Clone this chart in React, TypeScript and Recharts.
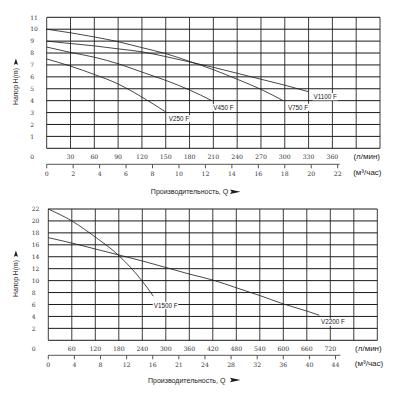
import { CartesianGrid, Label, Line, LineChart, XAxis, YAxis } from "recharts";

// ---- верхний график: V250 F … V1100 F ----
const topFlowTicks = [0, 30, 60, 90, 120, 150, 180, 210, 240, 270, 300, 330, 360, 390, 420];
const topFlowLabels = [30, 60, 90, 120, 150, 180, 210, 240, 270, 300, 330, 360];
const topM3Ticks = [0, 2, 4, 6, 8, 10, 12, 14, 16, 18, 20, 22];
const topM3Labels = ["0", "2", "4", "6", "8", "10", "12", "14", "16", "18", "20", "22"];
const topHeadTicks = [0, 1, 2, 3, 4, 5, 6, 7, 8, 9, 10, 11];

const v250Flow = [0, 30, 60, 90, 120, 150];
const v250Head = [7.5, 6.9, 6.2, 5.4, 4.3, 3.05];

const v450Flow = [0, 30, 60, 90, 120, 150, 180, 208];
const v450Head = [8.5, 8.05, 7.65, 7.1, 6.4, 5.7, 4.9, 4.0];

const v750Flow = [0, 30, 60, 90, 120, 150, 180, 210, 240, 270, 298];
const v750Head = [10, 9.7, 9.35, 8.95, 8.45, 7.95, 7.3, 6.6, 5.8, 4.95, 4.0];

const v1100Flow = [0, 30, 60, 90, 120, 150, 180, 210, 240, 270, 300, 330];
const v1100Head = [9, 8.8, 8.6, 8.35, 8.1, 7.7, 7.25, 6.8, 6.3, 5.8, 5.3, 4.75];

// ---- нижний график: V1500 F, V2200 F ----
const bottomFlowTicks = [0, 60, 120, 180, 240, 300, 360, 420, 480, 540, 600, 660, 720, 780, 840];
const bottomFlowLabels = [60, 120, 180, 240, 300, 360, 420, 480, 540, 600, 660, 720];
const bottomM3Ticks = [0, 4, 8, 12, 16, 20, 24, 28, 32, 36, 40, 44];
const bottomM3Labels = ["0", "4", "8", "12", "16", "21", "24", "28", "32", "36", "40", "44"];
const bottomHeadTicks = [0, 2, 4, 6, 8, 10, 12, 14, 16, 18, 20, 22];

const v1500Flow = [0, 60, 120, 180, 240, 268];
const v1500Head = [22, 20, 17.3, 14.2, 9.9, 7.4];

const v2200Flow = [0, 60, 120, 180, 240, 300, 360, 420, 480, 540, 600, 660, 692];
const v2200Head = [17.2, 16.3, 15.3, 14.3, 13.3, 12.2, 11.1, 10.1, 8.8, 7.5, 6.1, 4.9, 4.2];

const SERIF = '"DejaVu Serif", serif';
const SANS = '"Liberation Sans", Arial, sans-serif';
const INK = "#1a1a1a";

type Pt = { q: number; h?: number };
type Curve = { name: string; points: Pt[]; dx: number; dy: number };

const zip = (flow: number[], head: number[]): Pt[] => flow.map((q, i) => ({ q, h: head[i] }));

// подпись кривой на белой подложке у последней точки
function endLabel(curve: Curve) {
  const last = curve.points.length - 1;
  return (p: any) => {
    if (p.index !== last) return <g key={`d-${curve.name}-${p.index}`} />;
    const w = curve.name.length * 3.35 + 2;
    const x = p.cx + curve.dx;
    const y = p.cy + curve.dy;
    return (
      <g key={`d-${curve.name}-${p.index}`}>
        <rect x={x - 1} y={y - 3.6} width={w} height={7.2} fill="#fff" />
        <text x={x} y={y + 2.2} fontSize={6.3} fontFamily={SANS} fill={INK}>
          {curve.name}
        </text>
      </g>
    );
  };
}

interface PumpChartProps {
  flowMax: number;
  flowTicks: number[];
  flowLabels: number[];
  m3Max: number;
  m3Ticks: number[];
  m3Labels: string[];
  headMax: number;
  headTicks: number[];
  curves: Curve[];
  margin: { top: number; right: number; bottom: number; left: number };
  lpmHeight: number;
  m3Height: number;
  m3LineLen: number;
  unitOffset: number;
}

function PumpChart(props: PumpChartProps) {
  const { flowMax, flowTicks, flowLabels, m3Max, m3Ticks, m3Labels, headMax, headTicks, curves, margin } = props;

  return (
    <LineChart width={400} height={200} margin={margin}>
      <CartesianGrid xAxisId="lpm" horizontal={false} stroke="#3c3c3c" strokeWidth={1} />
      <CartesianGrid xAxisId="lpm" vertical={false} stroke={INK} strokeWidth={1} />
      <XAxis
        xAxisId="lpm"
        type="number"
        dataKey="q"
        domain={[0, flowMax]}
        ticks={flowTicks}
        interval={0}
        axisLine={false}
        tickLine={false}
        tickSize={0}
        tickMargin={0}
        height={props.lpmHeight}
        tick={(p: any) =>
          flowLabels.includes(p.payload.value) ? (
            <text x={p.x} y={p.y + props.lpmHeight * 0.68} textAnchor="middle" fontSize={6.2} fontFamily={SERIF} fill="#333">
              {p.payload.value}
            </text>
          ) : (
            <g />
          )
        }
      >
        <Label value="(л/мин)" position="insideRight" offset={props.unitOffset} style={{ fontSize: 8, fontFamily: SANS, fill: INK }} />
      </XAxis>
      <XAxis
        xAxisId="m3"
        type="number"
        dataKey="q"
        domain={[0, m3Max]}
        ticks={m3Ticks}
        interval={0}
        axisLine={{ stroke: "#555", strokeDasharray: `${props.m3LineLen} 999` }}
        tickLine={{ stroke: "#555" }}
        tickSize={4}
        tickMargin={0}
        height={props.m3Height}
        tick={(p: any) => (
          <text x={p.x} y={p.y + 7.6} textAnchor="middle" fontSize={6.2} fontFamily={SERIF} fill="#333">
            {m3Labels[m3Ticks.indexOf(p.payload.value)]}
          </text>
        )}
      >
        <Label value="(м³/час)" position="insideRight" offset={props.unitOffset - 1.5} style={{ fontSize: 8, fontFamily: SANS, fill: INK }} />
      </XAxis>
      <YAxis
        type="number"
        domain={[0, headMax]}
        ticks={headTicks}
        interval={0}
        axisLine={false}
        tickLine={false}
        tickSize={0}
        tickMargin={0}
        width={30}
        tick={(p: any) => (
          <text
            x={p.x - 16.5}
            y={p.y + 2.2 + (p.payload.value === 0 ? 8.5 : 0)}
            fontSize={6}
            fontFamily={SERIF}
            fill="#333"
          >
            {p.payload.value}
          </text>
        )}
      />
      {/* шкала м³/час не несёт своей кривой — пустая серия только привязывает ось */}
      <Line
        xAxisId="m3"
        data={m3Ticks.map((q) => ({ q }))}
        dataKey="h"
        stroke="none"
        dot={false}
        activeDot={false}
        isAnimationActive={false}
      />
      {curves.map((c) => (
        <Line
          key={c.name}
          xAxisId="lpm"
          data={c.points}
          dataKey="h"
          type="monotone"
          stroke={INK}
          strokeWidth={0.8}
          dot={endLabel(c)}
          activeDot={false}
          isAnimationActive={false}
        />
      ))}
    </LineChart>
  );
}

function Arrow({ x, y, up }: { x: number; y: number; up?: boolean }) {
  // чёрная стрелка-клин у подписей осей
  const pts = up
    ? `${x},${y} ${x + 2.1},${y + 6.5} ${x},${y + 5.2} ${x - 2.1},${y + 6.5}`
    : `${x},${y} ${x + 10.5},${y + 2.2} ${x},${y + 4.4} ${x + 1.6},${y + 2.2}`;
  return <polygon points={pts} fill={INK} />;
}

export default function App() {
  const topCurves: Curve[] = [
    { name: "V250 F", points: zip(v250Flow, v250Head), dx: 3, dy: 6.6 },
    { name: "V450 F", points: zip(v450Flow, v450Head), dx: 1.5, dy: 7 },
    { name: "V750 F", points: zip(v750Flow, v750Head), dx: 4.7, dy: 6.7 },
    { name: "V1100 F", points: zip(v1100Flow, v1100Head), dx: 5, dy: 5 },
  ];
  const bottomCurves: Curve[] = [
    { name: "V1500 F", points: zip(v1500Flow, v1500Head), dx: 0.5, dy: 9.3 },
    { name: "V2200 F", points: zip(v2200Flow, v2200Head), dx: 1.7, dy: 7 },
  ];

  return (
    <div style={{ position: "absolute", left: 0, top: 0, width: 400, height: 400, background: "#fff" }}>
      <div style={{ position: "absolute", left: 0, top: 0 }}>
        <PumpChart
          flowMax={420}
          flowTicks={topFlowTicks}
          flowLabels={topFlowLabels}
          m3Max={25.2}
          m3Ticks={topM3Ticks}
          m3Labels={topM3Labels}
          headMax={11}
          headTicks={topHeadTicks}
          curves={topCurves}
          margin={{ top: 17.3, right: 20, bottom: 19.7, left: 16.7 }}
          lpmHeight={16}
          m3Height={16}
          m3LineLen={293}
          unitOffset={0}
        />
      </div>
      <div style={{ position: "absolute", left: 0, top: 200 }}>
        <PumpChart
          flowMax={840}
          flowTicks={bottomFlowTicks}
          flowLabels={bottomFlowLabels}
          m3Max={50.4}
          m3Ticks={bottomM3Ticks}
          m3Labels={bottomM3Labels}
          headMax={22}
          headTicks={bottomHeadTicks}
          curves={bottomCurves}
          margin={{ top: 9, right: 22.7, bottom: 29.7, left: 18.3 }}
          lpmHeight={15}
          m3Height={15}
          m3LineLen={292}
          unitOffset={-4.4}
        />
      </div>
      <svg width={400} height={400} style={{ position: "absolute", left: 0, top: 0, pointerEvents: "none" }}>
        <text x={189.5} y={194.2} textAnchor="middle" fontSize={7} fontFamily={SANS} fill={INK}>
          Производительность, Q
        </text>
        <Arrow x={230} y={189.6} />
        <text transform="translate(18.3,105) rotate(-90)" fontSize={6.8} fontFamily={SANS} fill={INK}>
          Напор H(m)
        </text>
        <Arrow x={15.9} y={58.5} up />

        <text x={186.7} y={382.5} textAnchor="middle" fontSize={7} fontFamily={SANS} fill={INK}>
          Производительность, Q
        </text>
        <Arrow x={230} y={377.8} />
        <text transform="translate(18.3,297) rotate(-90)" fontSize={6.8} fontFamily={SANS} fill={INK}>
          Напор H(m)
        </text>
        <Arrow x={15.9} y={250.5} up />
      </svg>
    </div>
  );
}
